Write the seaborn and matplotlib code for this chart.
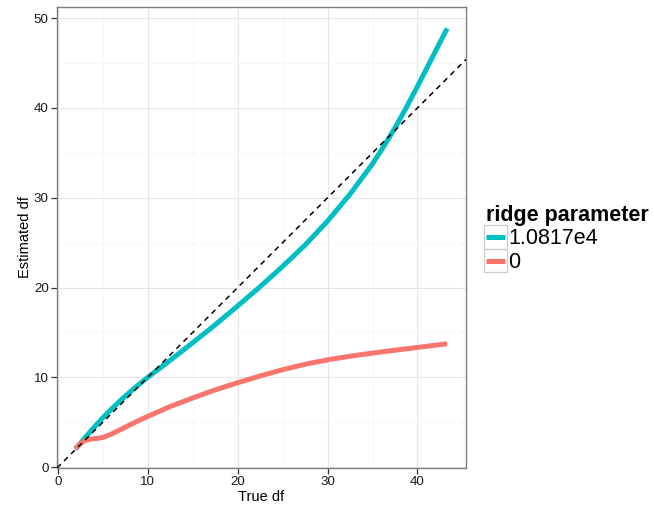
import matplotlib
matplotlib.use("Agg")
import matplotlib.pyplot as plt
from matplotlib.patches import Rectangle
from matplotlib.ticker import MultipleLocator
import pandas as pd
import seaborn as sns

# Estimated vs true degrees of freedom for two ridge parameters
true_df_ridge = [1.95, 2.5, 3, 4, 5, 6, 7, 8, 9, 10, 12.5, 15, 17.5, 20, 22.5, 25, 27.5,
                 30, 32.5, 35, 36.25, 37.5, 38.75, 40, 41.5, 43.3]
est_df_ridge = [2.0, 2.65, 3.25, 4.4, 5.5, 6.5, 7.45, 8.35, 9.2, 10.0, 11.9, 13.85, 15.85,
                17.95, 20.1, 22.35, 24.73, 27.4, 30.4, 33.78, 35.72, 37.78, 40.03,
                42.4, 45.33, 48.85]

true_df_zero = [1.95, 2.5, 3, 3.6, 4.3, 5, 6, 7, 8.5, 10, 12.5, 15, 17.5, 20, 22.5,
                25, 27.5, 30, 32.5, 35, 37.5, 40, 43.3]
est_df_zero = [2.05, 2.6, 2.95, 3.12, 3.18, 3.3, 3.7, 4.2, 4.95, 5.65, 6.75, 7.7, 8.6,
               9.4, 10.15, 10.85, 11.45, 11.95, 12.35, 12.7, 13.02, 13.33, 13.74]

ridge_labels = ["1.0817e4", "0"]
ridge_colors = ["#00BFC4", "#F8766D"]

df = pd.concat([
    pd.DataFrame({"true": true_df_ridge, "est": est_df_ridge, "ridge parameter": ridge_labels[0]}),
    pd.DataFrame({"true": true_df_zero, "est": est_df_zero, "ridge parameter": ridge_labels[1]}),
], ignore_index=True)

sns.set_theme(style="white")
plt.rcParams["font.family"] = ["Liberation Sans", "DejaVu Sans"]

fig = plt.figure(figsize=(6.54, 5.12), dpi=100)
W, H = 654, 512
ax = fig.add_axes([57 / W, 1 - 468 / H, (466 - 57) / W, (468 - 6.5) / H])

# Reference line y = x
ax.axline((0, 0), slope=1, color="black", lw=1.1, linestyle=(0, (3.5, 3)), zorder=3)

sns.lineplot(data=df, x="true", y="est", hue="ridge parameter",
             hue_order=ridge_labels, palette=ridge_colors,
             estimator=None, sort=False, lw=3.6, ax=ax, zorder=2,
             solid_capstyle="butt", solid_joinstyle="round")

ax.set_xlim(-0.1, 45.4)
ax.set_ylim(-0.1, 51.3)
ax.xaxis.set_major_locator(MultipleLocator(10))
ax.yaxis.set_major_locator(MultipleLocator(10))
ax.xaxis.set_minor_locator(MultipleLocator(5))
ax.yaxis.set_minor_locator(MultipleLocator(5))
ax.grid(which="major", color="#E5E5E5", lw=0.8)
ax.grid(which="minor", color="#F7F7F7", lw=0.7)
ax.set_axisbelow(True)
for s in ax.spines.values():
    s.set_color("#7F7F7F")
    s.set_linewidth(1.0)

ax.tick_params(axis="both", which="major", length=4, width=0.9, color="#333333",
               labelsize=9.6, labelcolor="#1a1a1a", pad=2, bottom=True, left=True)
ax.tick_params(axis="both", which="minor", length=0)

ax.set_xlabel("True df", fontsize=10.5, color="black", labelpad=1)
ax.set_ylabel("Estimated df", fontsize=10.5, color="black", labelpad=1)

handles, labels = ax.get_legend_handles_labels()
if ax.legend_:
    ax.legend_.remove()
leg = fig.legend(handles, labels, title="ridge parameter", loc="center left",
                 bbox_to_anchor=(486 / W, 1 - 239 / H), frameon=False,
                 handlelength=0.9, handletextpad=0.15, labelspacing=0.12,
                 borderpad=0, borderaxespad=0, fontsize=15.5,
                 title_fontproperties={"weight": "bold", "size": 15.5},
                 alignment="left")
leg.get_title().set_color("black")
for t in leg.get_texts():
    t.set_color("black")
for h in leg.legend_handles:
    h.set_linewidth(3.6)

# Grey boxes around the legend keys
fig.canvas.draw()
renderer = fig.canvas.get_renderer()
for h in leg.legend_handles:
    bb = h.get_window_extent(renderer)
    cx, cy = (bb.x0 + bb.x1) / 2, (bb.y0 + bb.y1) / 2
    size = 23.5
    fig.patches.append(Rectangle(((cx - size / 2) / W, (cy - size / 2) / H), size / W, size / H,
                                 transform=fig.transFigure, fill=False,
                                 edgecolor="#CCCCCC", lw=0.9, zorder=0))

fig.savefig("out.png", dpi=100)
